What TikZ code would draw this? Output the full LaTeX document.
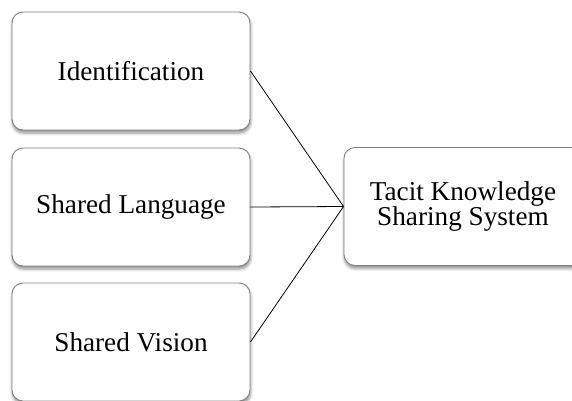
\documentclass[tikz,border=0pt]{standalone}
\usepackage{fontspec}
\setmainfont{Liberation Serif}
\usetikzlibrary{shadows.blur}
\begin{document}
\begin{tikzpicture}[x=1pt,y=-1pt,
  box/.style={draw=black!50, line width=0.9pt, fill=white, rounded corners=11pt,
    minimum width=238pt, minimum height=118pt, inner sep=0pt, align=center,
    font=\fontsize{27.2}{25}\selectfont,
    blur shadow={shadow xshift=0.5pt, shadow yshift=-3pt, shadow blur steps=6, shadow blur radius=3pt, shadow opacity=45}},
  link/.style={draw=black, line width=0.8pt}]
\useasboundingbox (0,0) rectangle (572,400);
\node[box] (ident) at (131,71) {Identification};
\node[box] (lang) at (131,207) {Shared Language};
\node[box] (vision) at (131,342) {Shared Vision};
\node[box] (tks) at (463,206.5) {Tacit Knowledge\\Sharing System};
\draw[link] (ident.east) -- (tks.west);
\draw[link] (lang.east) -- (tks.west);
\draw[link] (vision.east) -- (tks.west);
\end{tikzpicture}
\end{document}
